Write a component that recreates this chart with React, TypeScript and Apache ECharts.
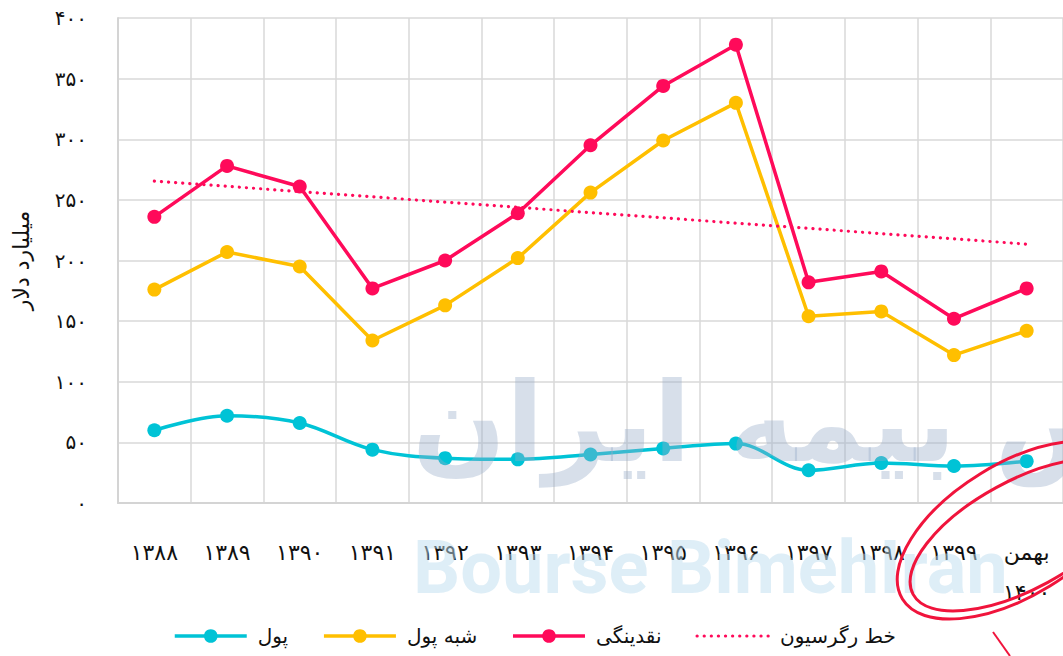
import React, { useEffect, useRef } from "react";
import * as echarts from "echarts";

const categories = ["۱۳۸۸", "۱۳۸۹", "۱۳۹۰", "۱۳۹۱", "۱۳۹۲", "۱۳۹۳", "۱۳۹۴", "۱۳۹۵", "۱۳۹۶", "۱۳۹۷", "۱۳۹۸", "۱۳۹۹", "بهمن\n۱۴۰۰"];
const money = [60, 72, 66, 44, 37, 36, 40, 45, 49, 27, 33, 30.5, 34.5];
const quasiMoney = [176, 207, 195, 134, 163, 202, 256, 299, 330, 154, 158, 122, 142];
const liquidity = [236, 278, 261, 177, 200, 239, 295, 344, 378, 182, 191, 152, 177];
const regression = [265.5, null, null, null, null, null, null, null, null, null, null, null, 213.5];
const yTicks = ["۰", "۵۰", "۱۰۰", "۱۵۰", "۲۰۰", "۲۵۰", "۳۰۰", "۳۵۰", "۴۰۰"];
const seriesNames = ["پول", "شبه پول", "نقدینگی", "خط رگرسیون"];

const FONT = "DejaVu Sans";
const CYAN = "#00C3D6";
const YELLOW = "#FFBF00";
const RED = "#FF0A5A";
const SWIRL = "#F0143C";

export default function App() {
  const ref = useRef<HTMLDivElement>(null);
  useEffect(() => {
    if (!ref.current) return;
    const chart = echarts.init(ref.current, undefined, { renderer: "svg" });
    const lineCommon = {
      type: "line" as const,
      symbol: "circle",
      symbolSize: 14,
    };
    chart.setOption({
      animation: false,
      backgroundColor: "#ffffff",
      textStyle: { fontFamily: FONT },
      grid: { left: 118, top: 18, right: -5, bottom: 153 },
      legend: {
        bottom: 5,
        left: 168,
        itemWidth: 72,
        itemHeight: 17,
        itemGap: 34,
        lineStyle: { width: 3.5 },
        textStyle: { fontSize: 20, color: "#111", fontFamily: FONT, padding: [0, 0, 0, 6] },
        data: [
          seriesNames[0],
          seriesNames[1],
          seriesNames[2],
          {
            name: seriesNames[3],
            itemStyle: { color: "rgba(0,0,0,0)", opacity: 0 },
            lineStyle: { width: 3.2 },
          },
        ],
      },
      xAxis: {
        type: "category",
        data: categories,
        boundaryGap: true,
        axisLine: { lineStyle: { color: "#D4D4D4", width: 2 } },
        axisTick: { show: false },
        splitLine: { show: true, lineStyle: { color: "#D9D9D9", width: 1.5 } },
        axisLabel: {
          interval: 0,
          margin: 29,
          fontSize: 22,
          color: "#111",
          fontFamily: FONT,
          lineHeight: 40,
        },
      },
      yAxis: {
        type: "value",
        min: 0,
        max: 400,
        interval: 50,
        name: "میلیارد دلار",
        nameLocation: "middle",
        nameRotate: 90,
        nameGap: 86,
        nameTextStyle: { fontSize: 22, color: "#111", fontFamily: FONT },
        axisLine: { show: true, lineStyle: { color: "#D4D4D4", width: 2 } },
        axisTick: { show: false },
        splitLine: { show: true, lineStyle: { color: "#D9D9D9", width: 1.5 } },
        axisLabel: {
          margin: 31,
          fontSize: 20,
          color: "#111",
          fontFamily: FONT,
          formatter: (v: number) => yTicks[Math.round(v / 50)],
        },
      },
      series: [
        {
          ...lineCommon,
          name: seriesNames[0],
          data: money,
          smooth: 0.35,
          itemStyle: { color: CYAN },
          lineStyle: { width: 3.5, color: CYAN },
        },
        {
          ...lineCommon,
          name: seriesNames[1],
          data: quasiMoney,
          itemStyle: { color: YELLOW },
          lineStyle: { width: 3.5, color: YELLOW },
        },
        {
          ...lineCommon,
          name: seriesNames[2],
          data: liquidity,
          itemStyle: { color: RED },
          lineStyle: { width: 3.5, color: RED },
        },
        {
          type: "line",
          name: seriesNames[3],
          data: regression,
          connectNulls: true,
          symbol: "none",
          itemStyle: { color: RED },
          lineStyle: { width: 3.2, color: RED, type: [0.1, 7], cap: "round" },
        },
      ],
      graphic: [
        {
          type: "text",
          left: 412,
          top: 368,
          z: 100,
          silent: true,
          style: {
            text: "بورس بیمه ایران",
            fontSize: 110,
            fontWeight: "bold",
            fontFamily: FONT,
            fill: "rgba(150,170,200,0.38)",
          },
        },
        {
          type: "text",
          left: 413,
          top: 530,
          z: 1,
          silent: true,
          style: {
            text: "Bourse BimehIran",
            fontSize: 74,
            fontWeight: "bold",
            fontFamily: "Roboto",
            fill: "rgba(190,222,240,0.5)",
          },
        },
        {
          type: "ellipse",
          x: 1015,
          y: 530,
          rotation: 0.55,
          z: 101,
          silent: true,
          shape: { cx: 0, cy: 0, rx: 132, ry: 66 },
          style: { fill: "none", stroke: SWIRL, lineWidth: 3 },
        },
        {
          type: "ellipse",
          x: 1022,
          y: 535,
          rotation: 0.5,
          z: 101,
          silent: true,
          shape: { cx: 0, cy: 0, rx: 124, ry: 54 },
          style: { fill: "none", stroke: SWIRL, lineWidth: 3 },
        },
        {
          type: "line",
          z: 101,
          silent: true,
          shape: { x1: 993, y1: 632, x2: 1010, y2: 656 },
          style: { stroke: SWIRL, lineWidth: 2 },
        },
      ],
    });
    return () => chart.dispose();
  }, []);
  return (
    <div
      ref={ref}
      style={{ position: "fixed", left: 0, top: 0, width: 1063, height: 656, background: "#fff" }}
    />
  );
}
